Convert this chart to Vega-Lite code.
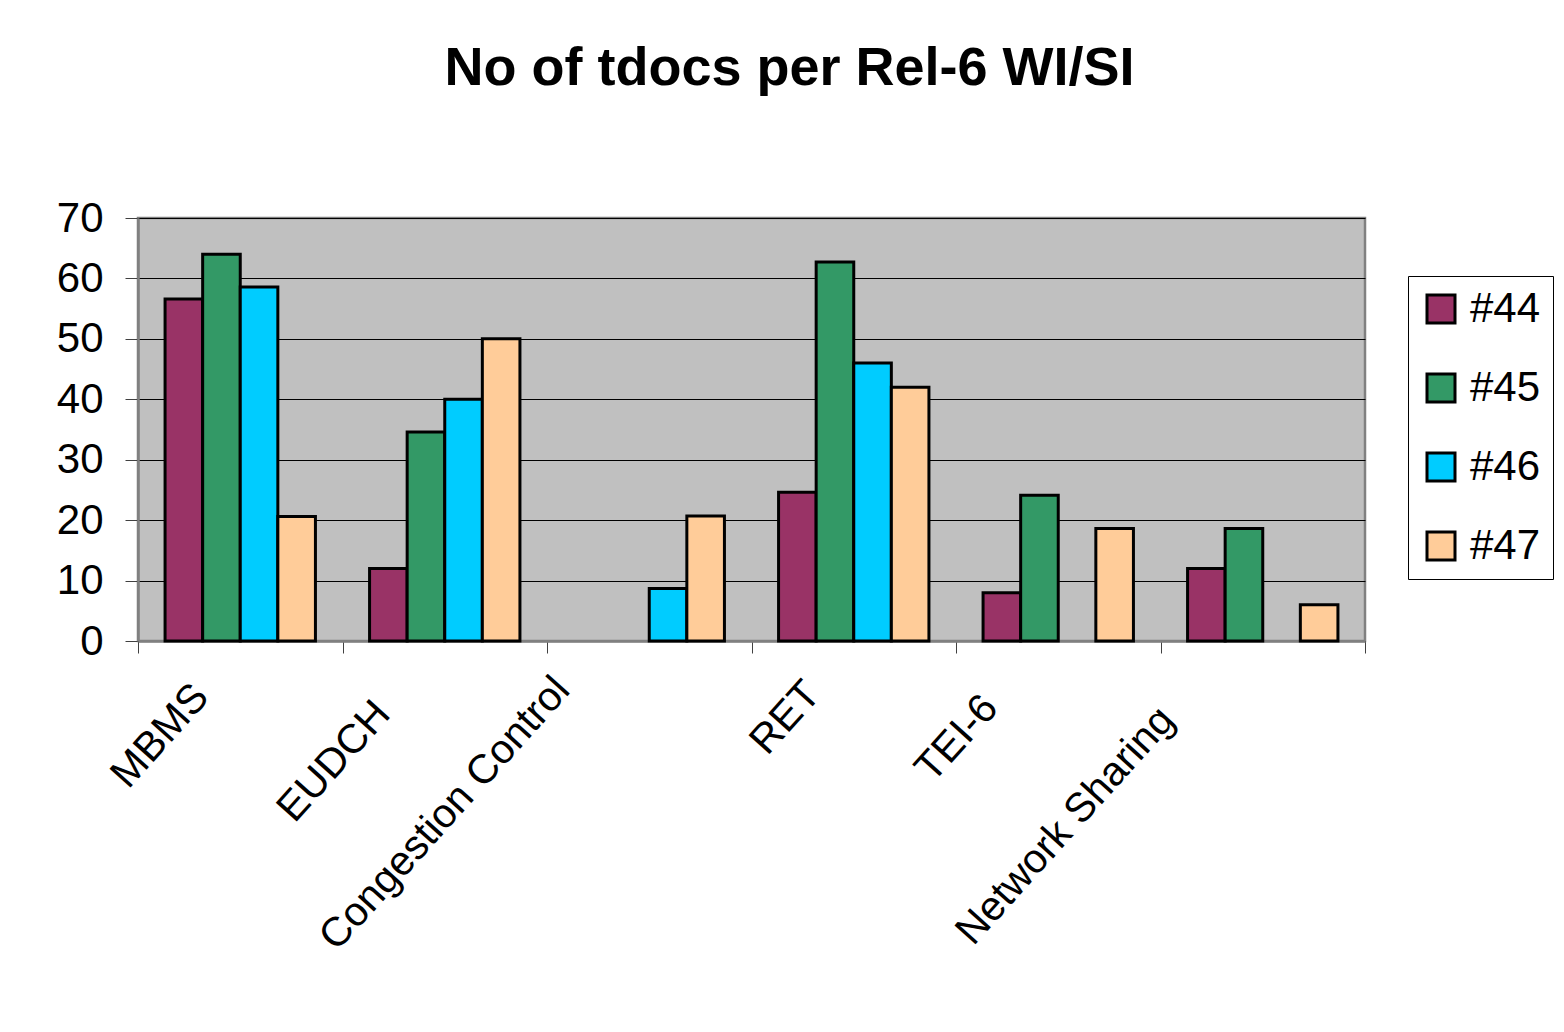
{
  "$schema": "https://vega.github.io/schema/vega-lite/v6.json",
  "autosize": "none",
  "width": 1227,
  "height": 423,
  "padding": {"left": 138, "top": 218, "right": 199, "bottom": 391},
  "background": "white",
  "title": {
    "text": "No of tdocs per Rel-6 WI/SI",
    "font": "Liberation Sans",
    "fontSize": 54,
    "fontWeight": "bold",
    "color": "black",
    "anchor": "middle",
    "frame": "group",
    "dx": 38,
    "baseline": "alphabetic",
    "offset": 58
  },
  "data": {
    "values": [
      {"wi": "MBMS", "meeting": "#44", "tdocs": 56.6},
      {"wi": "MBMS", "meeting": "#45", "tdocs": 64},
      {"wi": "MBMS", "meeting": "#46", "tdocs": 58.6},
      {"wi": "MBMS", "meeting": "#47", "tdocs": 20.6},
      {"wi": "EUDCH", "meeting": "#44", "tdocs": 12},
      {"wi": "EUDCH", "meeting": "#45", "tdocs": 34.6},
      {"wi": "EUDCH", "meeting": "#46", "tdocs": 40},
      {"wi": "EUDCH", "meeting": "#47", "tdocs": 50},
      {"wi": "Congestion Control", "meeting": "#46", "tdocs": 8.7},
      {"wi": "Congestion Control", "meeting": "#47", "tdocs": 20.7},
      {"wi": "RET", "meeting": "#44", "tdocs": 24.6},
      {"wi": "RET", "meeting": "#45", "tdocs": 62.7},
      {"wi": "RET", "meeting": "#46", "tdocs": 46},
      {"wi": "RET", "meeting": "#47", "tdocs": 42},
      {"wi": "TEI-6", "meeting": "#44", "tdocs": 8},
      {"wi": "TEI-6", "meeting": "#45", "tdocs": 24.1},
      {"wi": "TEI-6", "meeting": "#47", "tdocs": 18.6},
      {"wi": "Network Sharing", "meeting": "#44", "tdocs": 12},
      {"wi": "Network Sharing", "meeting": "#45", "tdocs": 18.6},
      {"wi": "Network Sharing", "meeting": "#47", "tdocs": 6}
    ]
  },
  "mark": {"type": "bar", "stroke": "black", "strokeWidth": 3},
  "encoding": {
    "x": {
      "field": "wi",
      "type": "nominal",
      "sort": ["MBMS", "EUDCH", "Congestion Control", "RET", "TEI-6", "Network Sharing"],
      "scale": {"paddingInner": 0, "paddingOuter": 0},
      "axis": {
        "title": null,
        "labelAngle": -48,
        "labelFont": "Liberation Sans",
        "labelFontSize": 41,
        "labelColor": "black",
        "labelOffset": {
          "condition": [
            {"test": "datum.value == 'MBMS'", "value": -39},
            {"test": "datum.value == 'EUDCH'", "value": -62},
            {"test": "datum.value == 'Congestion Control'", "value": -87},
            {"test": "datum.value == 'RET'", "value": -41},
            {"test": "datum.value == 'TEI-6'", "value": -68}
          ],
          "value": -96
        },
        "labelPadding": {
          "condition": [
            {"test": "datum.value == 'MBMS'", "value": 37},
            {"test": "datum.value == 'EUDCH'", "value": 54},
            {"test": "datum.value == 'Congestion Control'", "value": 30},
            {"test": "datum.value == 'RET'", "value": 34},
            {"test": "datum.value == 'TEI-6'", "value": 48}
          ],
          "value": 60
        },
        "tickBand": "extent",
        "tickSize": 12,
        "tickColor": "#404040",
        "tickWidth": 1,
        "domainColor": "#808080",
        "domainWidth": 2.5,
        "grid": false,
        "labelOverlap": false,
        "labelLimit": 0
      }
    },
    "xOffset": {
      "field": "meeting",
      "type": "nominal",
      "sort": ["#44", "#45", "#46", "#47"],
      "scale": {"paddingInner": 0, "paddingOuter": 0.72}
    },
    "y": {
      "field": "tdocs",
      "type": "quantitative",
      "scale": {"domain": [0, 70], "nice": false},
      "axis": {
        "title": null,
        "values": [0, 10, 20, 30, 40, 50, 60, 70],
        "labelFont": "Liberation Sans",
        "labelFontSize": 42,
        "labelColor": "black",
        "labelPadding": 22,
        "tickSize": 13,
        "tickColor": "#404040",
        "tickWidth": 1,
        "domainColor": "#808080",
        "domainWidth": 2.5,
        "grid": true,
        "gridColor": "black",
        "gridWidth": 1.2,
        "gridOpacity": 1
      }
    },
    "color": {
      "field": "meeting",
      "type": "nominal",
      "sort": ["#44", "#45", "#46", "#47"],
      "scale": {
        "domain": ["#44", "#45", "#46", "#47"],
        "range": ["#993366", "#339966", "#00CCFF", "#FFCC99"]
      },
      "legend": {
        "title": null,
        "orient": "none",
        "legendX": 1270,
        "legendY": 58,
        "padding": 12,
        "strokeColor": "black",
        "fillColor": "white",
        "symbolType": "square",
        "symbolSize": 784,
        "symbolStrokeColor": "black",
        "symbolStrokeWidth": 3,
        "symbolOpacity": 1,
        "labelFont": "Liberation Sans",
        "labelFontSize": 42,
        "labelColor": "black",
        "labelOffset": 8,
        "rowPadding": 37
      }
    }
  },
  "config": {
    "view": {"fill": "#C0C0C0", "stroke": "#808080", "strokeWidth": 2.5}
  }
}
